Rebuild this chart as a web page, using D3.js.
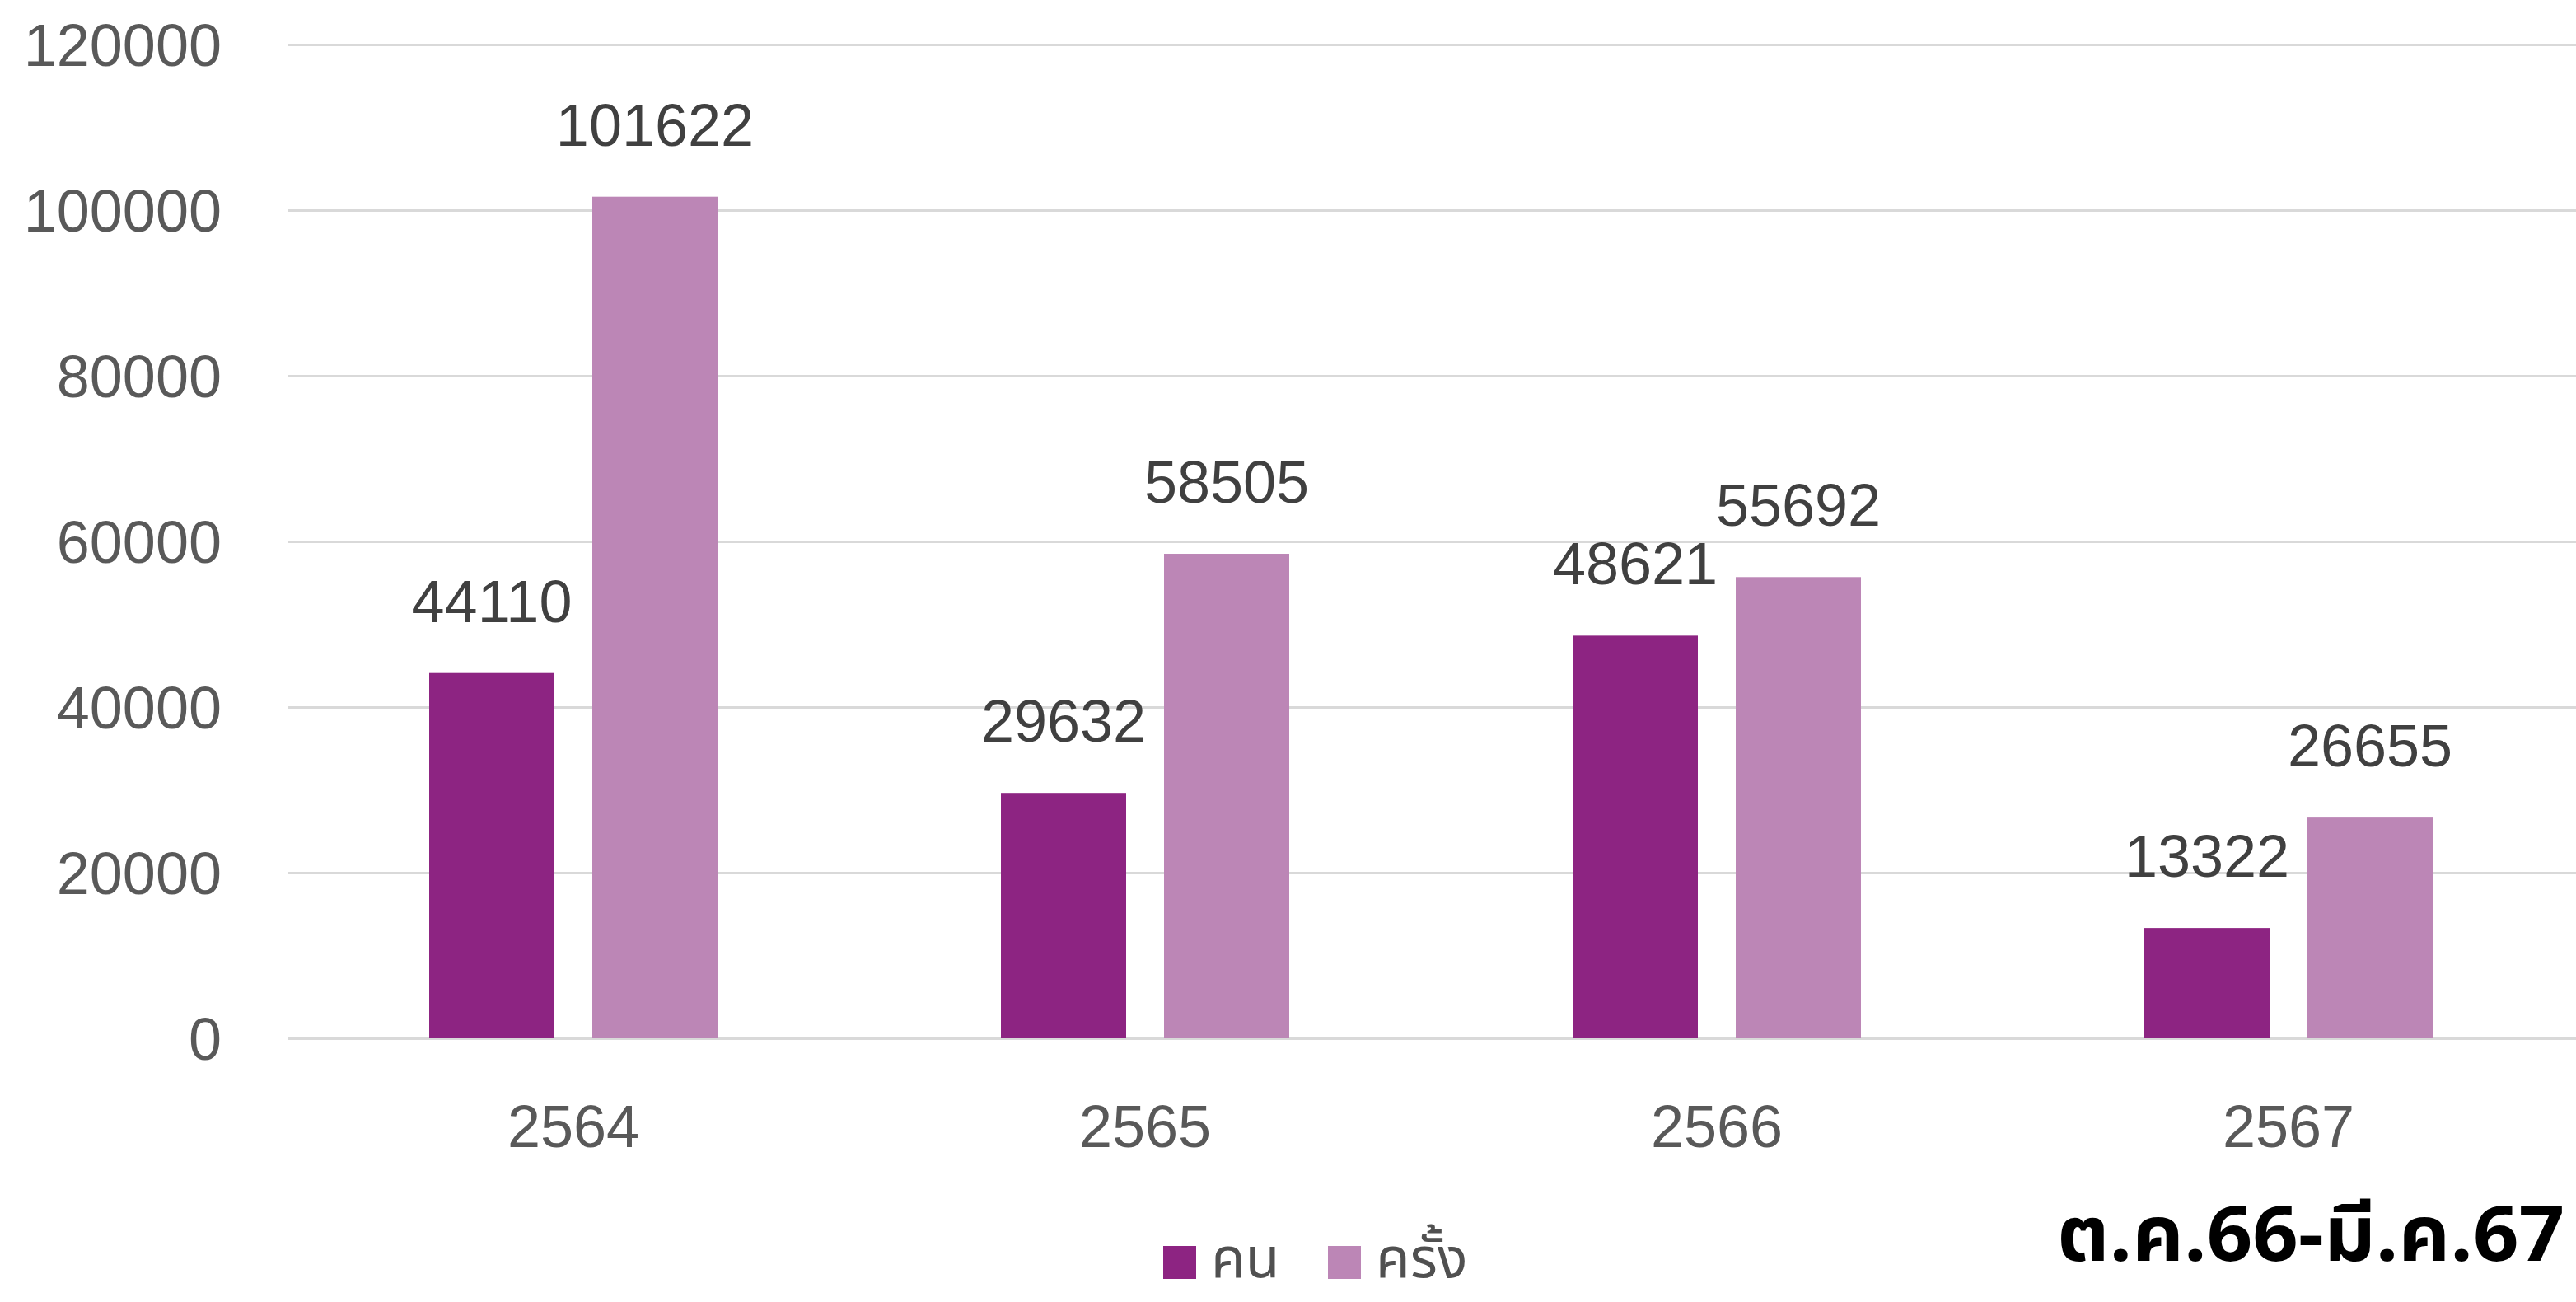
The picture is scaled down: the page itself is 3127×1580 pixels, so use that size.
<!DOCTYPE html>
<html><head><meta charset="utf-8">
<script src="https://cdn.jsdelivr.net/npm/d3@7"></script>
<style>
html,body{margin:0;padding:0;background:#fff;overflow:hidden;}
</style></head>
<body>
<svg id="chart" width="3127" height="1580"></svg>
<script>
const categories = ["2564","2565","2566","2567"];
const seriesNames = ["คน","ครั้ง"];
const valuesKhon = [44110, 29632, 48621, 13322];
const valuesKhrang = [101622, 58505, 55692, 26655];
const yTicks = [0,20000,40000,60000,80000,100000,120000];
const noteText = "ต.ค.66-มี.ค.67";
const colors = ["#8d2482","#bc86b6"];

(function(){
const W = 3127, H = 1580;
const svg = d3.select("#chart");
const pLeft = 349, pRight = 3125, pTop = 54, pBottom = 1260;

const x = d3.scaleBand().domain(categories).range([pLeft, pRight]).padding(0);
const xs = d3.scaleBand().domain(seriesNames).range([0, x.bandwidth()]).paddingInner(0.2323).paddingOuter(0.8687);
const y = d3.scaleLinear().domain([0,120000]).range([pBottom, pTop]);

const font = "'Liberation Sans', Arial, sans-serif";
const thai = "'Noto Sans Thai','Noto Sans Thai Looped','Loma','Garuda','Tlwg Typo','Noto Sans', sans-serif";

// gridlines
const yAxis = d3.axisLeft(y).tickValues(yTicks).tickSize(-(W - pLeft)).tickPadding(80).tickFormat(d3.format("d"));
const gy = svg.append("g").attr("transform", `translate(${pLeft},0)`).call(yAxis);
gy.select(".domain").remove();
gy.selectAll(".tick line").attr("stroke","#d9d9d9").attr("stroke-width",3);
gy.selectAll(".tick text").attr("font-family",font).attr("font-size",72).attr("fill","#595959").attr("dy","0.36em");

// bars
const data = categories.map((c,i)=>({cat:c, vals:[valuesKhon[i], valuesKhrang[i]]}));
const groups = svg.append("g").selectAll("g").data(data).join("g")
  .attr("transform", d=>`translate(${x(d.cat)},0)`);
groups.selectAll("rect").data(d=>d.vals.map((v,j)=>({s:seriesNames[j], v, j}))).join("rect")
  .attr("x", d=>xs(d.s)).attr("width", xs.bandwidth())
  .attr("y", d=>y(d.v)).attr("height", d=>y(0)-y(d.v))
  .attr("fill", d=>colors[d.j]);
groups.selectAll("text").data(d=>d.vals.map((v,j)=>({s:seriesNames[j], v, j}))).join("text")
  .attr("x", d=>xs(d.s)+xs.bandwidth()/2).attr("y", d=>y(d.v)-62)
  .attr("text-anchor","middle").attr("font-family",font).attr("font-size",72).attr("fill","#404040")
  .text(d=>d.v);

// x axis
const xAxis = d3.axisBottom(x).tickSize(0).tickPadding(0);
const gx = svg.append("g").attr("transform", `translate(0,${pBottom})`).call(xAxis);
gx.select(".domain").remove();
gx.selectAll(".tick text").attr("font-family",font).attr("font-size",72).attr("fill","#595959").attr("y",132).attr("dy",0);

// legend
const legX = [1412, 1612];
const leg = svg.append("g");
seriesNames.forEach((s,i)=>{
  leg.append("rect").attr("x",legX[i]).attr("y",1512).attr("width",40).attr("height",40).attr("fill",colors[i]);
  leg.append("text").attr("x",legX[i]+58).attr("y",1550).attr("font-family",thai).attr("font-size",68).attr("fill","#505050").text(s);
});

// note
svg.append("text").attr("x",2497).attr("y",1530).attr("text-anchor","start")
  .attr("font-family",thai).attr("font-weight","bold").attr("font-size",94)
  .attr("textLength",616).attr("lengthAdjust","spacingAndGlyphs").attr("fill","#000").text(noteText);
})();
</script>
</body></html>
